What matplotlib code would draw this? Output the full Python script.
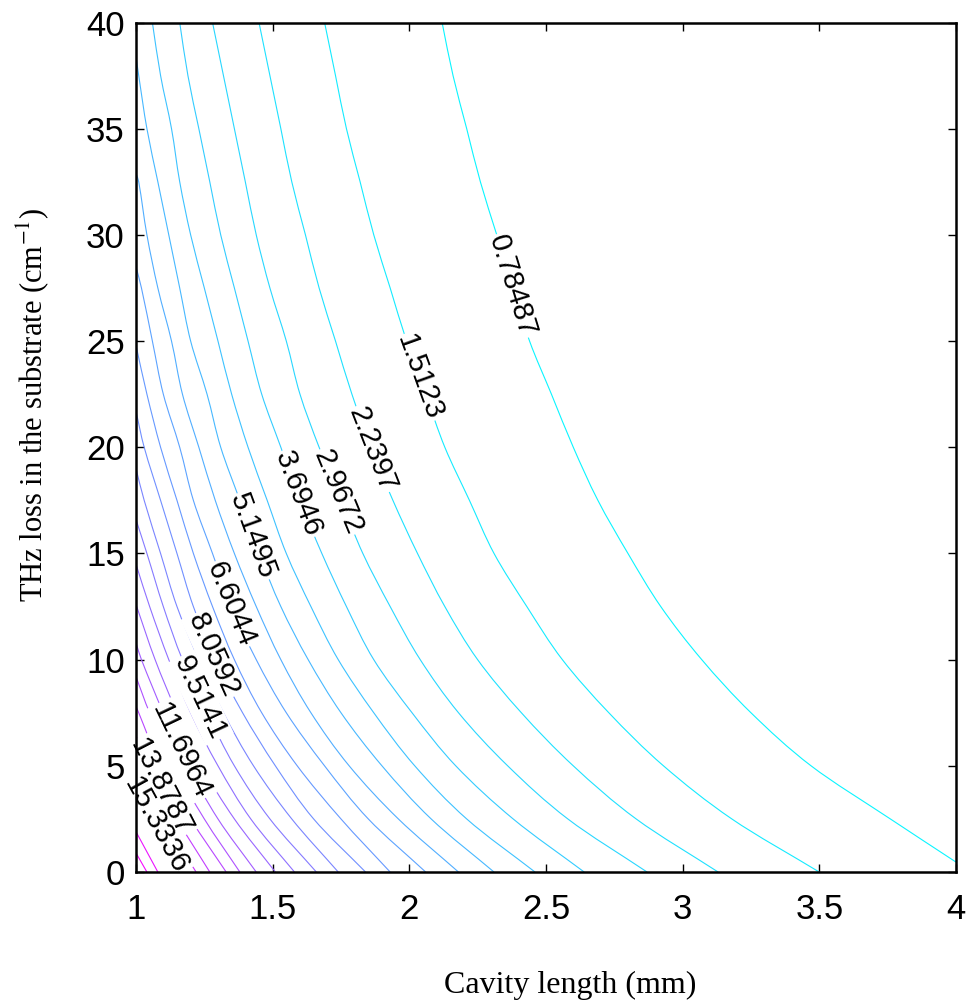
import numpy as np
import matplotlib
matplotlib.use('Agg')
import matplotlib.pyplot as plt
from matplotlib.colors import Normalize
from matplotlib.path import Path
from matplotlib.patches import PathPatch

plt.rcParams['font.family'] = ['Liberation Sans', 'DejaVu Sans']
plt.rcParams['mathtext.fontset'] = 'stix'

levels = [0.78487, 1.51230, 2.23973, 2.96716, 3.69459, 4.42202, 5.14945, 5.87688,
          6.60431, 7.33174, 8.05917, 8.78660, 9.51403, 10.24146, 10.96889, 11.69632,
          12.42375, 13.15118, 13.87861, 14.60604, 15.33360, 16.06090, 16.78833, 17.51576]

# substrate loss rows (cm^-1) at which the cavity length of each contour was read
rows_y = [0, 2.5, 5, 7.5, 10, 12.5, 15, 17.5, 20, 22.5, 25, 27.5, 30, 32.5, 35, 37.5, 40]

# cavity length (mm) where each contour crosses the rows above, from y = 0 upward
crossing_x = [
    [None, 3.76, 3.47, 3.25, 3.07, 2.92, 2.80, 2.69, 2.60, 2.52, 2.44, 2.38, 2.32, 2.26, 2.21, 2.16, 2.12],
    [3.50, 3.18, 2.93, 2.73, 2.56, 2.43, 2.31, 2.22, 2.13, 2.06, 1.99, 1.93, 1.87, 1.82, 1.77, 1.73, 1.69],
    [3.13, 2.83, 2.60, 2.41, 2.25, 2.13, 2.03, 1.94, 1.86, 1.79, 1.73, 1.67, 1.62, 1.57, 1.53, 1.49, 1.45],
    [2.87, 2.58, 2.36, 2.18, 2.04, 1.93, 1.83, 1.75, 1.67, 1.60, 1.55, 1.49, 1.44, 1.40, 1.36, 1.32, 1.28],
    [2.64, 2.38, 2.17, 2.01, 1.87, 1.77, 1.68, 1.60, 1.53, 1.46, 1.41, 1.36, 1.31, 1.27, 1.23, 1.19, 1.16],
    [2.46, 2.21, 2.02, 1.87, 1.74, 1.64, 1.55, 1.48, 1.41, 1.35, 1.30, 1.25, 1.20, 1.16, 1.13, 1.09, 1.06],
    [2.31, 2.08, 1.90, 1.75, 1.63, 1.53, 1.45, 1.38, 1.31, 1.26, 1.20, 1.16, 1.12, 1.08, 1.04, 1.01],
    [2.18, 1.96, 1.78, 1.64, 1.53, 1.44, 1.36, 1.29, 1.23, 1.17, 1.13, 1.08, 1.04, 1.01],
    [2.06, 1.85, 1.69, 1.55, 1.44, 1.35, 1.28, 1.21, 1.16, 1.10, 1.06, 1.02],
    [1.93, 1.75, 1.59, 1.46, 1.36, 1.28, 1.21, 1.15, 1.09, 1.04],
    [1.84, 1.65, 1.51, 1.39, 1.29, 1.21, 1.15, 1.09, 1.03],
    [1.74, 1.57, 1.43, 1.32, 1.23, 1.15, 1.09, 1.03],
    [1.66, 1.49, 1.36, 1.26, 1.17, 1.10, 1.04],
    [1.58, 1.42, 1.30, 1.20, 1.12, 1.05],
    [1.51, 1.36, 1.24, 1.15, 1.07],
    [1.44, 1.30, 1.19, 1.10, 1.02],
    [1.38, 1.25, 1.14, 1.05],
    [1.33, 1.20, 1.09, 1.01],
    [1.27, 1.15, 1.05],
    [1.22, 1.10, 1.01],
    [1.17, 1.06],
    [1.13, 1.02],
    [1.08],
    [1.04],
]

# loss at which a contour leaves through the left edge (1 mm); None = leaves through the top
left_edge_y = [None, None, None, None, None, None, 38.4, 32.9, 28.5, 24.8, 21.7, 19.0,
               16.6, 14.5, 12.6, 10.8, 9.2, 7.8, 6.4, 5.2, 4.0, 2.9, 1.9, 0.9]
# the lowest contour meets the right edge (4 mm) at this loss
right_edge_y = 0.47

# inline labels: contour index, loss where the label sits, text
label_level = [0, 1, 2, 3, 4, 6, 8, 10, 12, 15, 18, 20]
label_y = [27.6, 23.3, 19.9, 17.9, 17.8, 15.8, 12.6, 10.2, 8.2, 5.7, 4.0, 2.2]
label_text = ['0.78487', '1.5123', '2.2397', '2.9672', '3.6946', '5.1495',
              '6.6044', '8.0592', '9.5141', '11.6964', '13.8787', '15.3336']


def curve_path(xs, ys):
    # smooth curve through the read points (x as a function of y), drawn as bezier segments
    n = len(xs)
    if n < 3:
        return Path(np.column_stack([xs, ys]))
    slope = np.empty(n)
    slope[1:-1] = (xs[2:] - xs[:-2]) / (ys[2:] - ys[:-2])
    slope[0] = (xs[1] - xs[0]) / (ys[1] - ys[0])
    slope[-1] = (xs[-1] - xs[-2]) / (ys[-1] - ys[-2])
    verts = [(xs[0], ys[0])]
    codes = [Path.MOVETO]
    for i in range(n - 1):
        h = ys[i + 1] - ys[i]
        verts += [(xs[i] + slope[i] * h / 3, ys[i] + h / 3),
                  (xs[i + 1] - slope[i + 1] * h / 3, ys[i + 1] - h / 3),
                  (xs[i + 1], ys[i + 1])]
        codes += [Path.CURVE4] * 3
    return Path(verts, codes)


fig = plt.figure(figsize=(9.72, 10.05), dpi=100)
ax = fig.add_axes([0.1399, 0.1323, 0.8436, 0.8453])
ax.set_xlim(1, 4)
ax.set_ylim(0, 40)

norm = Normalize(vmin=0.0574, vmax=18.24)
curves = []
for k, lev in enumerate(levels):
    pts = [(x, y) for x, y in zip(crossing_x[k], rows_y) if x is not None]
    if left_edge_y[k] is not None:
        pts.append((1.0, left_edge_y[k]))
    if k == 0:
        pts.append((4.0, right_edge_y))
    pts.sort(key=lambda p: p[1])
    xs = np.array([p[0] for p in pts])
    ys = np.array([p[1] for p in pts])
    ax.add_patch(PathPatch(curve_path(xs, ys), fill=False, edgecolor=plt.cm.cool(norm(lev)),
                           lw=0.8, zorder=2))
    curves.append((xs, ys))

# labels sit on their contour, turned along it like clabel does
for k, yl, txt in zip(label_level, label_y, label_text):
    xs, ys = curves[k]
    xl = np.interp(yl, ys, xs)
    p1 = ax.transData.transform((np.interp(yl - 1, ys, xs), yl - 1))
    p2 = ax.transData.transform((np.interp(yl + 1, ys, xs), yl + 1))
    ang = np.degrees(np.arctan2(p2[1] - p1[1], p2[0] - p1[0]))
    if ang > 90:
        ang -= 180
    ax.text(xl, yl, txt, rotation=ang, rotation_mode='anchor', ha='center', va='center',
            fontsize=21, zorder=2.4, bbox=dict(fc='white', ec='none', pad=1))

ax.set_xticks([1, 1.5, 2, 2.5, 3, 3.5, 4])
ax.set_xticklabels(['1', '1.5', '2', '2.5', '3', '3.5', '4'])
ax.set_yticks(range(0, 41, 5))
ax.tick_params(direction='in', length=6, width=1, labelsize=25, top=True, right=True)
ax.tick_params(axis='x', pad=15)
ax.tick_params(axis='y', pad=8)
for s in ax.spines.values():
    s.set_linewidth(1.8)

ax.set_xlabel('Cavity length (mm)', family='Liberation Serif', fontsize=23)
ax.xaxis.set_label_coords(0.529, -0.116)
ax.set_ylabel(r'THz loss in the substrate (cm$^{\mathrm{-1}}$)', family='Liberation Serif', fontsize=22)
ax.yaxis.set_label_coords(-0.104, 0.55)

fig.savefig('out.png')
